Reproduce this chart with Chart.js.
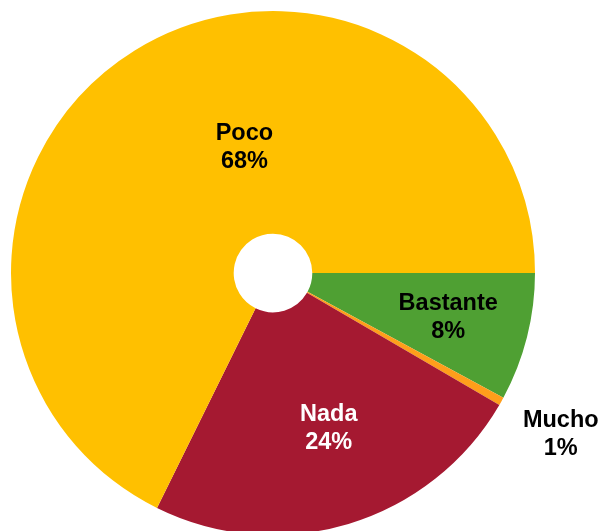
<!DOCTYPE html>
<html lang="es">
<head>
<meta charset="UTF-8">
<title>Doughnut</title>
<script src="https://cdn.jsdelivr.net/npm/chart.js"></script>
<style>
    html, body { margin: 0; padding: 0; background: #fff; overflow: hidden; }
    #wrap { position: absolute; left: 0; top: 0; width: 601px; height: 546px; }
</style>
</head>
<body>
<div id="wrap"><canvas id="chart" width="601" height="546"></canvas></div>
<script>
const categorias = ['Bastante', 'Mucho', 'Nada', 'Poco'];
const valores = [7.9, 0.5, 23.9, 67.7];
const colores = ['#4FA033', '#FF9E1B', '#A51931', '#FFC000'];

// where each label sits: fraction of the outer radius, angle shift from the slice middle (deg), text colour
const etiquetas = [
    { r: 0.69, shift: 0, color: '#000' },
    { r: 1.26, shift: 0, color: '#000' },
    { r: 0.63, shift: -3, color: '#fff' },
    { r: 0.49, shift: 19, color: '#000' }
];

const total = valores.reduce((a, b) => a + b, 0);

const labelsPlugin = {
    id: 'sliceLabels',
    afterDatasetsDraw(chart) {
        const ctx = chart.ctx;
        const arcs = chart.getDatasetMeta(0).data;
        ctx.save();
        ctx.font = 'bold 23.5px "Liberation Sans", Arial, sans-serif';
        ctx.textAlign = 'center';
        ctx.textBaseline = 'middle';
        arcs.forEach((arc, i) => {
            const p = arc.getProps(['x', 'y', 'startAngle', 'endAngle', 'outerRadius'], true);
            const mid = (p.startAngle + p.endAngle) / 2 + etiquetas[i].shift * Math.PI / 180;
            const r = p.outerRadius * etiquetas[i].r;
            const x = p.x + Math.cos(mid) * r;
            const y = p.y + Math.sin(mid) * r;
            ctx.fillStyle = etiquetas[i].color;
            ctx.fillText(categorias[i], x, y - 14);
            ctx.fillText(Math.round(valores[i] / total * 100) + '%', x, y + 14);
        });
        ctx.restore();
    }
};

new Chart(document.getElementById('chart'), {
    type: 'doughnut',
    data: {
        labels: categorias,
        datasets: [{
            data: valores,
            backgroundColor: colores,
            borderWidth: 0
        }]
    },
    options: {
        responsive: false,
        animation: false,
        rotation: 90,
        cutout: '15%',
        radius: 262,
        layout: { padding: { left: 0, right: 55, top: 0, bottom: 0 } },
        plugins: {
            legend: { display: false },
            tooltip: { enabled: false }
        }
    },
    plugins: [labelsPlugin]
});
</script>
</body>
</html>
